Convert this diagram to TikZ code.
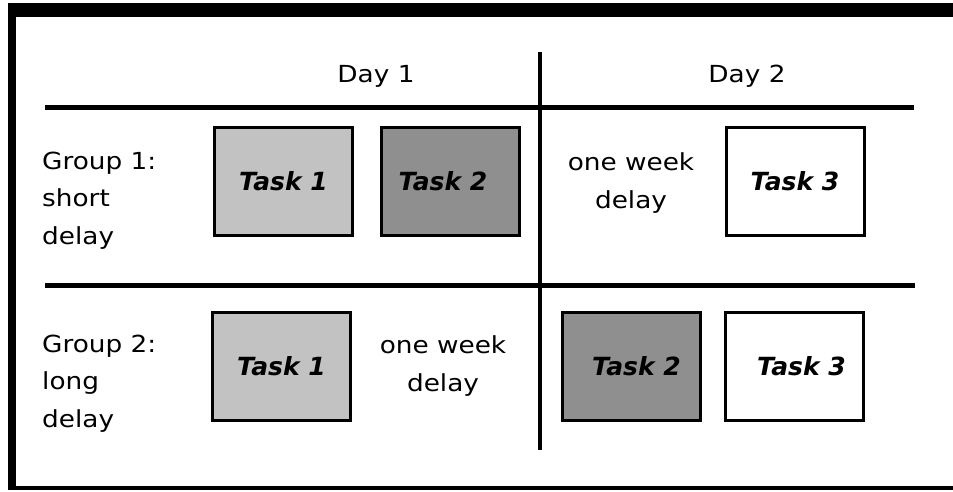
\documentclass[tikz,border=0pt]{standalone}
\usepackage{fontspec}
\setmainfont{DejaVu Sans}[FakeStretch=1.12]
\newfontfamily\taskfont{DejaVu Sans}
\begin{document}
\begin{tikzpicture}[x=1pt,y=-1pt,
  label/.style={font=\fontsize{23.5}{37.5}\selectfont, inner sep=0pt},
  % multi-line labels are placed by the baseline of their last line
  rowlabel/.style={label, align=left, anchor=base west},
  delaytext/.style={label, align=center, anchor=base},
  heading/.style={label, anchor=base},
  taskbox/.style={draw=black, line width=3pt, minimum width=138pt, minimum height=108pt,
    inner sep=0pt, font=\taskfont\fontsize{25}{28}\bfseries\itshape\selectfont},
  firsttask/.style={taskbox, fill=black!24},
  secondtask/.style={taskbox, fill=black!44},
  thirdtask/.style={taskbox, fill=white},
  rule/.style={line width=5pt},
  divider/.style={line width=3.5pt}]
\useasboundingbox (0,0) rectangle (953,491);
% outer frame
\fill (8,3) rectangle (953,16.5);
\fill (8,3) rectangle (16,490);
\draw[line width=4pt] (8,487.5) -- (953,487.5);
% day divider and row rules
\draw[divider] (540,52) -- (540,450);
\draw[rule] (45,107) -- (914,107);
\draw[rule] (45,285) -- (915,285);
% column headings
\node[heading] (day1) at (376,82) {Day 1};
\node[heading] (day2) at (747,82) {Day 2};
% group 1: short delay
\node[rowlabel] (g1) at (42,244) {Group 1:\\short\\delay};
\node[firsttask] (t11) at (283.5,181.5) {Task 1};
\node[secondtask] (t12) at (450,181.5) {Task 2\hspace*{14pt}};
\node[delaytext] (d1) at (631,208) {one week\\delay};
\node[thirdtask] (t13) at (795,181) {Task 3};
% group 2: long delay
\node[rowlabel] (g2) at (42,427) {Group 2:\\long\\delay};
\node[firsttask] (t21) at (281.5,366.5) {Task 1};
\node[delaytext] (d2) at (443,391) {one week\\delay};
\node[secondtask] (t22) at (631.5,366.5) {\hspace*{10pt}Task 2};
\node[thirdtask] (t23) at (794.5,366.5) {\hspace*{14pt}Task 3};
\end{tikzpicture}
\end{document}
